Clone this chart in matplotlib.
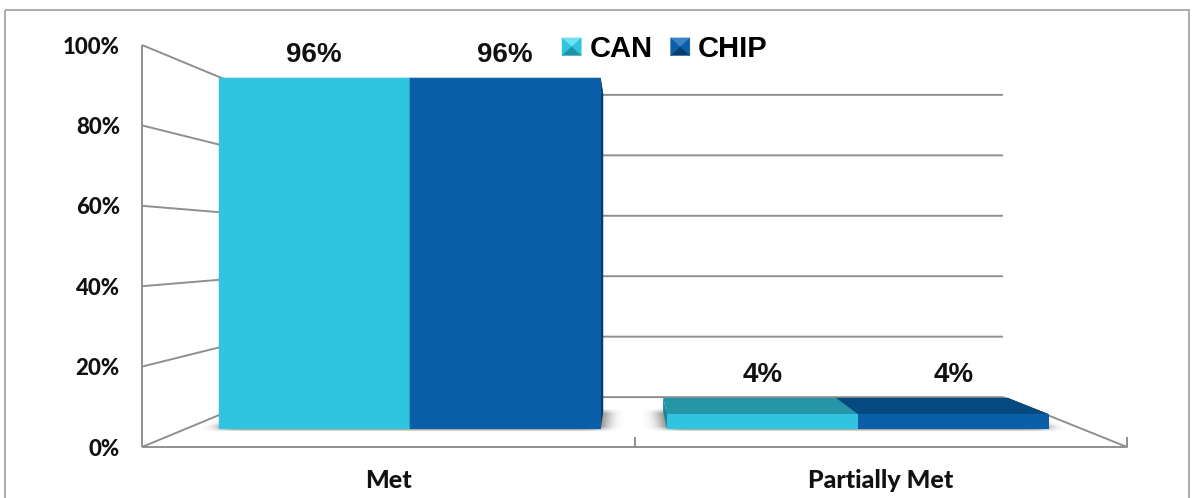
import numpy as np
import matplotlib
matplotlib.use("Agg")
import matplotlib.pyplot as plt
from matplotlib.transforms import Affine2D
from matplotlib.patches import Polygon, Rectangle
from matplotlib.legend_handler import HandlerBase
from matplotlib.path import Path

# ---- data -------------------------------------------------------------
categories = ["Met", "Partially Met"]
series_names = ["CAN", "CHIP"]
can_values = [96, 4]
chip_values = [96, 4]
y_ticks = [0, 20, 40, 60, 80, 100]
y_tick_labels = ["0%", "20%", "40%", "60%", "80%", "100%"]

# ---- colours ----------------------------------------------------------
CAN_FRONT, CAN_TOP, CAN_SIDE = "#2fc4df", "#2496a8", "#1c8598"
CHIP_FRONT, CHIP_TOP, CHIP_SIDE = "#0b5fa8", "#04497f", "#033c6b"
CAN_LEG = ("#6fe0f2", "#2fc4df", "#1d94aa")
CHIP_LEG = ("#3b84c8", "#0b5fa8", "#063d70")
GRID = "#8f8f8f"

# ---- figure in pixel units ---------------------------------------------
W, H = 1196, 498
fig = plt.figure(figsize=(W / 100, H / 100), dpi=100)
ax = fig.add_axes([0, 0, 1, 1])
ax.set_xlim(0, W)
ax.set_ylim(H, 0)
ax.axis("off")

# front plane of the 3-D box: category units / percent -> pixels
X0, X1 = 142, 1127
Y0, Y1 = 447, 45
VX, VY = 627, 246          # vanishing point of the perspective
DEPTH = 0.33               # back wall is drawn at 1 / (1 + DEPTH) scale
n_cat = len(categories)

front = Affine2D().scale((X1 - X0) / n_cat, (Y1 - Y0) / 100).translate(X0, Y0)


def plane(z):
    s = 1.0 / (1.0 + DEPTH * z)
    return front + Affine2D().translate(-VX, -VY).scale(s).translate(VX, VY)


def proj(x, v, z):
    return plane(z).transform((x, v))


line_kw = dict(color=GRID, lw=1.4, solid_capstyle="butt", zorder=1)

# outer chart border
ax.add_patch(Rectangle((5, 10), W - 12, H, fill=False, ec="#a6a6a6", lw=1.3, zorder=0))

# side wall and back wall gridlines
for t in y_ticks:
    a, b, c = proj(0, t, 0), proj(0, t, 1), proj(n_cat, t, 1)
    ax.plot([a[0], b[0], c[0]], [a[1], b[1], c[1]], **line_kw)

# value axis, floor front edge and right floor edge
a, b = proj(0, 0, 0), proj(0, 100, 0)
ax.plot([a[0], b[0]], [a[1], b[1]], **line_kw)
a, b, c = proj(0, 0, 0), proj(n_cat, 0, 0), proj(n_cat, 0, 1)
ax.plot([a[0], b[0], c[0]], [a[1], b[1], c[1]], **line_kw)
for k in range(1, n_cat + 1):
    p = proj(k, 0, 0)
    ax.plot([p[0], p[0]], [p[1], p[1] - 10], **line_kw)

# tick labels
for t, lab in zip(y_ticks, y_tick_labels):
    p = proj(0, t, 0)
    ax.text(p[0] - 22, p[1] + 8.5, lab, ha="right", va="baseline",
            fontsize=16, fontweight="black", family="Lato", color="#111111")

# category labels
for i, cat in enumerate(categories):
    p = proj(i + 0.5, 0, 0)
    ax.text(p[0], p[1] + 41, cat, ha="center", va="baseline",
            fontsize=18, fontweight="black", family="Lato", color="#111111")

# ---- bars ---------------------------------------------------------------
BAR_W = 0.426
Z_F, Z_B = 0.30, 0.66
cat_pos = np.arange(n_cat) + 0.5
series = [
    (can_values, -BAR_W / 2, CAN_FRONT, CAN_TOP, CAN_SIDE),
    (chip_values, BAR_W / 2, CHIP_FRONT, CHIP_TOP, CHIP_SIDE),
]

# soft floor shadow under each category's bar group
yy, xx = np.mgrid[0:H, 0:W] + 0.5
pts = np.column_stack([xx.ravel(), yy.ravel()])
mask = np.zeros(H * W, dtype=bool)
for c in cat_pos:
    xl, xr = c - BAR_W, c + BAR_W
    poly = [proj(xl, 0, Z_F), proj(xr, 0, Z_F), proj(xr, 0, Z_B), proj(xl, 0, Z_B)]
    mask |= Path(poly).contains_points(pts)
shadow = mask.reshape(H, W).astype(float)


def blur(arr, r, axis):
    k = np.ones(2 * r + 1) / (2 * r + 1)
    return np.apply_along_axis(lambda m: np.convolve(m, k, mode="same"), axis, arr)


for _ in range(3):
    shadow = blur(shadow, 9, 1)
shadow = blur(shadow, 2, 0)
rgba = np.zeros((H, W, 4))
rgba[..., :3] = 0.25
rgba[..., 3] = np.clip(1.1 * shadow, 0, 0.9)
ax.imshow(rgba, extent=(0, W, H, 0), interpolation="bilinear", aspect="auto", zorder=1.5)
ax.set_xlim(0, W)
ax.set_ylim(H, 0)

# paint bars from the outside in so nearer faces cover farther ones
bars = []
for vals, off, cf, ct, cs in series:
    for i, v in enumerate(vals):
        bars.append((cat_pos[i] + off, v, cf, ct, cs))
x_vanish = (VX - X0) / ((X1 - X0) / n_cat)
bars.sort(key=lambda b: -abs(b[0] - x_vanish))

for k, (xc, v, cf, ct, cs) in enumerate(bars):
    z0 = 2 + k
    xl, xr = xc - BAR_W / 2, xc + BAR_W / 2
    for xs in (xl, xr):
        side = [proj(xs, 0, Z_F), proj(xs, v, Z_F), proj(xs, v, Z_B), proj(xs, 0, Z_B)]
        ax.add_patch(Polygon(side, closed=True, fc=cs, ec="none", zorder=z0))
    top = [proj(xl, v, Z_F), proj(xr, v, Z_F), proj(xr, v, Z_B), proj(xl, v, Z_B)]
    ax.add_patch(Polygon(top, closed=True, fc=ct, ec="none", zorder=z0 + 0.1))
    ax.bar(xc, v, width=BAR_W, color=cf, edgecolor="none", zorder=z0 + 0.5,
           transform=plane(Z_F) + ax.transData)

# data labels above the top face of each bar
z_mid = (Z_F + Z_B) / 2
for vals, off, *_ in series:
    for i, v in enumerate(vals):
        xc = cat_pos[i] + off
        px = proj(xc, v, Z_F)[0]
        py = proj(xc, v, z_mid)[1]
        ax.text(px, py - 24, f"{v}%", ha="center", va="baseline", fontsize=20,
                fontweight="bold", family="Liberation Sans", color="#111111", zorder=20)


# ---- legend with bevelled squares --------------------------------------
class PyramidHandler(HandlerBase):
    def __init__(self, shades):
        super().__init__()
        self.shades = shades

    def create_artists(self, legend, orig_handle, xdescent, ydescent, width,
                       height, fontsize, trans):
        light, mid, dark = self.shades
        x0, y0 = -xdescent, -ydescent
        x1, y1 = x0 + width, y0 + height
        cx, cy = (x0 + x1) / 2, (y0 + y1) / 2
        tris = [
            ([(x0, y1), (x1, y1), (cx, cy)], light),
            ([(x0, y0), (x0, y1), (cx, cy)], mid),
            ([(x1, y0), (x1, y1), (cx, cy)], mid),
            ([(x0, y0), (x1, y0), (cx, cy)], dark),
        ]
        arts = []
        for pts_, col in tris:
            p = Polygon(pts_, closed=True, fc=col, ec=col, lw=0.3, transform=trans)
            arts.append(p)
        return arts


h_can = Rectangle((0, 0), 1, 1, fc=CAN_FRONT)
h_chip = Rectangle((0, 0), 1, 1, fc=CHIP_FRONT)
leg = ax.legend([h_can, h_chip], series_names, loc="center left",
                bbox_to_anchor=(562, 49), bbox_transform=ax.transData,
                ncol=2, frameon=False, borderpad=0, borderaxespad=0,
                handlelength=0.66, handleheight=0.55, handletextpad=0.28,
                columnspacing=0.62,
                prop=dict(family="Liberation Sans", weight="bold", size=21),
                handler_map={h_can: PyramidHandler(CAN_LEG),
                             h_chip: PyramidHandler(CHIP_LEG)})
leg.set_zorder(30)

fig.savefig("out.png", dpi=100)
